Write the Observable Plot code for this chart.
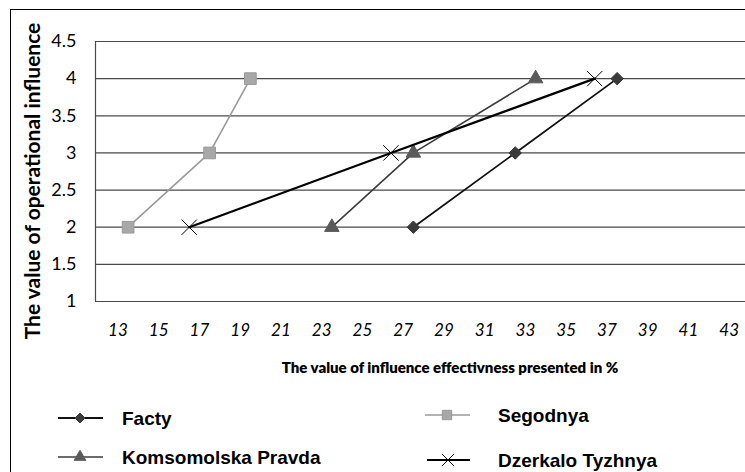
<!DOCTYPE html>
<html>
<head>
<meta charset="utf-8">
<script src="https://cdn.jsdelivr.net/npm/d3@7"></script>
<script src="https://cdn.jsdelivr.net/npm/@observablehq/plot@0.6"></script>
<style>
  html, body { margin: 0; padding: 0; background: #fff; }
  #wrap { position: relative; width: 745px; height: 472px; overflow: hidden; background: #fff; }
  #border { position: absolute; left: 10px; top: 9px; width: 800px; height: 500px; border: 1px solid #000; box-sizing: border-box; }
  #chart { position: absolute; left: 0; top: 0; }
  .ytitle { position: absolute; left: 31px; top: 181px; transform: translate(-50%, -50%) rotate(-90deg); white-space: nowrap;
            font-family: Lato, "Open Sans", sans-serif; font-weight: 700; font-size: 21px; color: #000; }
  .xtitle { position: absolute; left: 450px; top: 367px; transform: translate(-50%, -50%); white-space: nowrap;
            font-family: Lato, "Open Sans", sans-serif; font-weight: 800; font-size: 15px; color: #000; }
  #legend { position: absolute; left: 0; top: 380px; }
</style>
</head>
<body>
<div id="wrap">
  <div id="border"></div>
  <div id="chart"></div>
  <div class="ytitle">The value of operational influence</div>
  <div class="xtitle">The value of influence effectivness presented in %</div>
  <svg id="legend" width="745" height="92"></svg>
</div>
<script>
// ---- data ----
const seriesNames = ["Facty", "Segodnya", "Komsomolska Pravda", "Dzerkalo Tyzhnya"];
const yValues = [2, 3, 4];
const factyX = [27.5, 32.5, 37.5];
const segodnyaX = [13.5, 17.5, 19.5];
const komsomolskaX = [23.5, 27.5, 33.5];
const dzerkaloX = [16.5, 26.4, 36.4];
const xTicks = [13, 15, 17, 19, 21, 23, 25, 27, 29, 31, 33, 35, 37, 39, 41, 43];
const yTicks = [1, 1.5, 2, 2.5, 3, 3.5, 4, 4.5];

const seriesX = [factyX, segodnyaX, komsomolskaX, dzerkaloX];
const styles = [
  {stroke: "#111", sw: 1.8, symbol: "diamond2", fill: "#3a3a3a", dstroke: "#3a3a3a", r: 5.6, dsw: 1},
  {stroke: "#9a9a9a", sw: 1.6, symbol: "square", fill: "#a8a8a8", dstroke: "#999", r: 6.6, dsw: 1},
  {stroke: "#3c3c3c", sw: 1.6, symbol: "triangle", fill: "#5a5a5a", dstroke: "#5a5a5a", r: 5.4, dsw: 1},
  {stroke: "#000", sw: 2.2, symbol: "times", fill: "none", dstroke: "#000", r: 7, dsw: 1}
];

const rows = [];
seriesNames.forEach((name, i) => seriesX[i].forEach((x, j) => rows.push({series: name, x, y: yValues[j]})));

const xDomain = [11.9, 43.8];
const marks = [
  Plot.ruleY(yTicks, {stroke: "#4a4a4a", strokeWidth: 1.2}),
  Plot.ruleX([xDomain[0]], {stroke: "#4a4a4a", strokeWidth: 1.2}),
  Plot.axisX({ticks: xTicks, tickSize: 0, tickPadding: 22, fontSize: 17, fontStyle: "italic", label: null, tickFormat: d => String(d)}),
  Plot.axisY({ticks: yTicks, tickSize: 0, tickPadding: 19, fontSize: 18, label: null, tickFormat: d => String(d)})
];
seriesNames.forEach((name, i) => {
  const s = styles[i];
  const data = rows.filter(d => d.series === name);
  marks.push(Plot.line(data, {x: "x", y: "y", stroke: s.stroke, strokeWidth: s.sw}));
  marks.push(Plot.dot(data, {x: "x", y: "y", symbol: () => s.symbol, r: s.r, fill: s.fill, stroke: s.dstroke, strokeWidth: s.dsw}));
});

const chart = Plot.plot({
  width: 745,
  height: 380,
  marginLeft: 95,
  marginRight: 0,
  marginTop: 41,
  marginBottom: 79,
  style: {fontFamily: "Lato, 'Open Sans', sans-serif", color: "#000", background: "transparent"},
  x: {domain: xDomain},
  y: {domain: [1, 4.5]},
  symbol: {type: "identity"},
  marks
});
document.getElementById("chart").appendChild(chart);

// ---- legend ----
const leg = d3.select("#legend");
const legPos = [
  {x1: 58, x2: 103, mx: 80, ly: 38, tx: 122},
  {x1: 425, x2: 470, mx: 447, ly: 35, tx: 498},
  {x1: 58, x2: 103, mx: 80, ly: 77, tx: 122},
  {x1: 427, x2: 470, mx: 448, ly: 80, tx: 498}
];
const symMap = {diamond2: d3.symbolDiamond2, square: d3.symbolSquare, triangle: d3.symbolTriangle, times: d3.symbolTimes};
seriesNames.forEach((name, i) => {
  const p = legPos[i], s = styles[i];
  leg.append("line").attr("x1", p.x1).attr("x2", p.x2).attr("y1", p.ly).attr("y2", p.ly)
    .attr("stroke", s.stroke).attr("stroke-width", s.sw);
  const sz = Math.PI * (s.r * 0.8) ** 2;
  leg.append("path").attr("d", d3.symbol(symMap[s.symbol], sz)())
    .attr("transform", `translate(${p.mx},${p.ly})`)
    .attr("fill", s.fill).attr("stroke", s.dstroke).attr("stroke-width", s.dsw);
  leg.append("text").attr("x", p.tx).attr("y", p.ly + 7).text(name)
    .attr("font-family", "'Liberation Sans Narrow', 'Liberation Sans', Arial, sans-serif")
    .attr("font-weight", 700).attr("font-size", 19).attr("fill", "#000");
});
</script>
</body>
</html>
